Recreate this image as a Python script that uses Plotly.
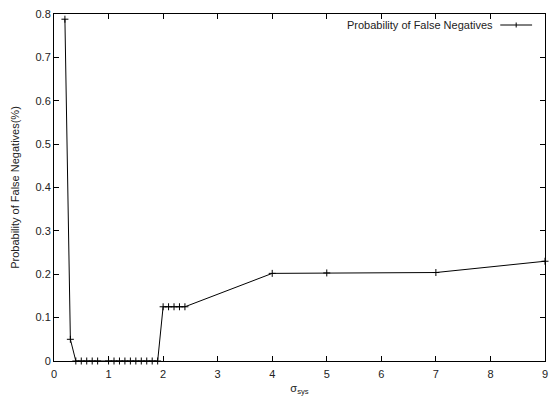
import plotly.graph_objects as go

sigma_sys = [0.2, 0.3, 0.4, 0.5, 0.6, 0.7, 0.8,
             1.0, 1.1, 1.2, 1.3, 1.4, 1.5, 1.6, 1.7, 1.8, 1.9,
             2.0, 2.1, 2.2, 2.3, 2.4, 4.0, 5.0, 7.0, 9.0]
prob_false_neg = [0.788, 0.05, 0.0, 0.0, 0.0, 0.0, 0.0,
                  0.0, 0.0, 0.0, 0.0, 0.0, 0.0, 0.0, 0.0, 0.0, 0.0,
                  0.125, 0.125, 0.125, 0.125, 0.125, 0.202, 0.203, 0.204, 0.230]
x_ticks = list(range(0, 10))
y_ticks = [0, 0.1, 0.2, 0.3, 0.4, 0.5, 0.6, 0.7, 0.8]
y_labels = ["0", "0.1", "0.2", "0.3", "0.4", "0.5", "0.6", "0.7", "0.8"]
series_name = "Probability of False Negatives"

FONT = "Liberation Sans, Arial, sans-serif"

fig = go.Figure()
fig.add_trace(go.Scatter(
    x=sigma_sys, y=prob_false_neg, mode="lines+markers",
    name=series_name, showlegend=False,
    line=dict(color="black", width=1),
    marker=dict(symbol="cross-thin-open", size=5, color="black",
                line=dict(color="black", width=1)),
    cliponaxis=False,
))

axis_common = dict(
    showline=True, linecolor="black", linewidth=1, mirror="allticks",
    ticks="inside", ticklen=5, tickcolor="black", tickwidth=1,
    showgrid=False, zeroline=False, ticklabeloverflow="allow",
    tickfont=dict(family=FONT, size=11, color="#222"),
)

# gnuplot-style key: text, then line sample with a + marker on the right
key_y = 25
key_x0, key_x1 = 503, 535
shapes = [
    dict(type="line", xref="paper", yref="paper",
         x0=(key_x0 - 54) / 494, x1=(key_x1 - 54) / 494,
         y0=(361 - key_y) / 347, y1=(361 - key_y) / 347,
         line=dict(color="black", width=1)),
    dict(type="line", xref="paper", yref="paper",
         x0=(519 - 54) / 494, x1=(519 - 54) / 494,
         y0=(361 - key_y - 2.5) / 347, y1=(361 - key_y + 2.5) / 347,
         line=dict(color="black", width=1)),
]
annotations = [
    dict(text=series_name, xref="paper", yref="paper",
         x=(498 - 54) / 494, y=(361 - key_y) / 347,
         xanchor="right", yanchor="middle", showarrow=False,
         font=dict(family=FONT, size=11, color="#222")),
]

fig.update_layout(
    width=549, height=396,
    margin=dict(l=54, r=1, t=14, b=35),
    plot_bgcolor="white", paper_bgcolor="white",
    font=dict(family=FONT, size=11, color="#222"),
    xaxis=dict(range=[0, 9], tickvals=x_ticks, ticklabelstandoff=3,
               title=dict(text="σ<sub>sys</sub>", standoff=5, font=dict(size=11)),
               **axis_common),
    yaxis=dict(range=[0, 0.8], tickvals=y_ticks, ticktext=y_labels,
               title=dict(text="Probability of False Negatives(%)", standoff=13, font=dict(size=11)),
               **axis_common),
    showlegend=False,
    shapes=shapes,
    annotations=annotations,
)

fig.write_html("out.html")
